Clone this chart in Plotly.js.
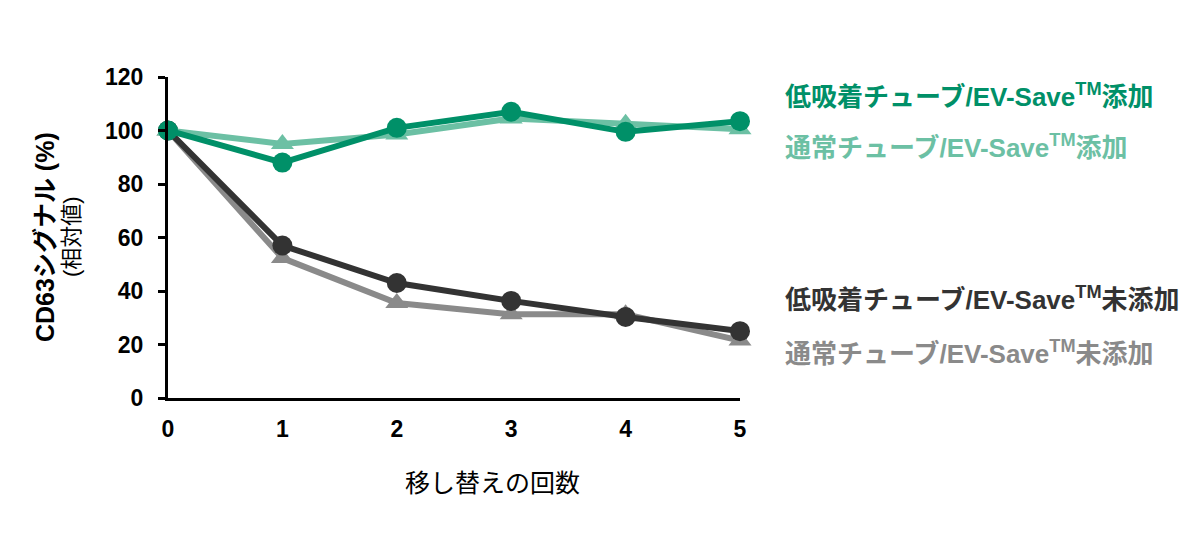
<!DOCTYPE html>
<html><head><meta charset="utf-8">
<script src="https://cdn.plot.ly/plotly-3.0.1.min.js"></script>
<style>html,body{margin:0;padding:0;background:#fff}#chart{width:1200px;height:538px}</style>
</head><body><div id="chart"></div>
<script>
const transfers = [0, 1, 2, 3, 4, 5];
const lowAdsWithSave = [100, 88, 101, 107, 99.5, 103.5];
const normalWithSave = [100, 95, 98.5, 104.5, 102.5, 100.5];
const lowAdsNoSave = [100, 57, 43, 36.3, 30.3, 25];
const normalNoSave = [100, 52.3, 35.5, 31.3, 31.3, 21.5];
const seriesNames = [
  "低吸着チューブ/EV-Save™添加",
  "通常チューブ/EV-Save™添加",
  "低吸着チューブ/EV-Save™未添加",
  "通常チューブ/EV-Save™未添加"
];
const yTicks = [0, 20, 40, 60, 80, 100, 120];
const xTicks = [0, 1, 2, 3, 4, 5];

const FONT = "Liberation Sans, Arial, Noto Sans CJK JP, sans-serif";
const C = {dg: "#009068", lg: "#6cc0a4", dk: "#333333", gr: "#8a8a8a"};

function tr(y, name, color, symbol, size) {
  return {x: transfers, y: y, name: name, type: "scatter", mode: "lines+markers",
    line: {color: color, width: 6}, marker: {color: color, symbol: symbol, size: size},
    cliponaxis: false, showlegend: false};
}
const data = [
  tr(normalNoSave, seriesNames[3], C.gr, "triangle-up", 20),
  tr(lowAdsNoSave, seriesNames[2], C.dk, "circle", 20),
  tr(normalWithSave, seriesNames[1], C.lg, "triangle-up", 20),
  tr(lowAdsWithSave, seriesNames[0], C.dg, "circle", 20)
];

function legendAnn(text, y, color) {
  return {xref: "paper", yref: "paper", x: (783 - 168) / 572, y: y, xanchor: "left", yanchor: "middle",
    text: "<b>" + text.replace("™", "<sup>TM</sup>") + "</b>", showarrow: false,
    font: {family: FONT, size: 26, color: color}};
}
// paper y: plot top 77 -> 1, bottom 398 -> 0
function py(pix) { return (398 - pix) / 321; }

const layout = {
  width: 1200, height: 538,
  margin: {l: 168, r: 460, t: 77, b: 140},
  paper_bgcolor: "#fff", plot_bgcolor: "#fff",
  font: {family: FONT, color: "#000"},
  xaxis: {range: [0, 5], tickvals: xTicks, showgrid: false, zeroline: false,
    showline: true, linecolor: "#000", linewidth: 3, ticks: "",
    ticklabelstandoff: 8,
    tickfont: {family: FONT, size: 23, color: "#000", weight: "bold"}},
  yaxis: {range: [0, 120], tickvals: yTicks, showgrid: false, zeroline: false,
    showline: true, linecolor: "#000", linewidth: 3, ticks: "outside", ticklen: 7,
    tickwidth: 3, tickcolor: "#000", ticklabelstandoff: 10,
    tickfont: {family: FONT, size: 23, color: "#000", weight: "bold"}},
  annotations: [
    legendAnn(seriesNames[0], py(95), C.dg),
    legendAnn(seriesNames[1], py(146), C.lg),
    legendAnn(seriesNames[2], py(298), C.dk),
    legendAnn(seriesNames[3], py(352), C.gr),
    {xref: "paper", yref: "paper", x: (45 - 168) / 572, y: py(237), xanchor: "center", yanchor: "middle",
      textangle: -90, showarrow: false, text: "<b>CD63シグナル (%)</b>",
      font: {family: FONT, size: 25, color: "#000"}},
    {xref: "paper", yref: "paper", x: (71 - 168) / 572, y: py(237), xanchor: "center", yanchor: "middle",
      textangle: -90, showarrow: false, text: "(相対値)",
      font: {family: FONT, size: 22, color: "#000"}},
    {xref: "paper", yref: "paper", x: (492 - 168) / 572, y: py(483), xanchor: "center", yanchor: "middle",
      showarrow: false, text: "移し替えの回数",
      font: {family: FONT, size: 25, color: "#000"}}
  ]
};
Plotly.newPlot("chart", data, layout, {displayModeBar: false, staticPlot: true});
</script></body></html>
